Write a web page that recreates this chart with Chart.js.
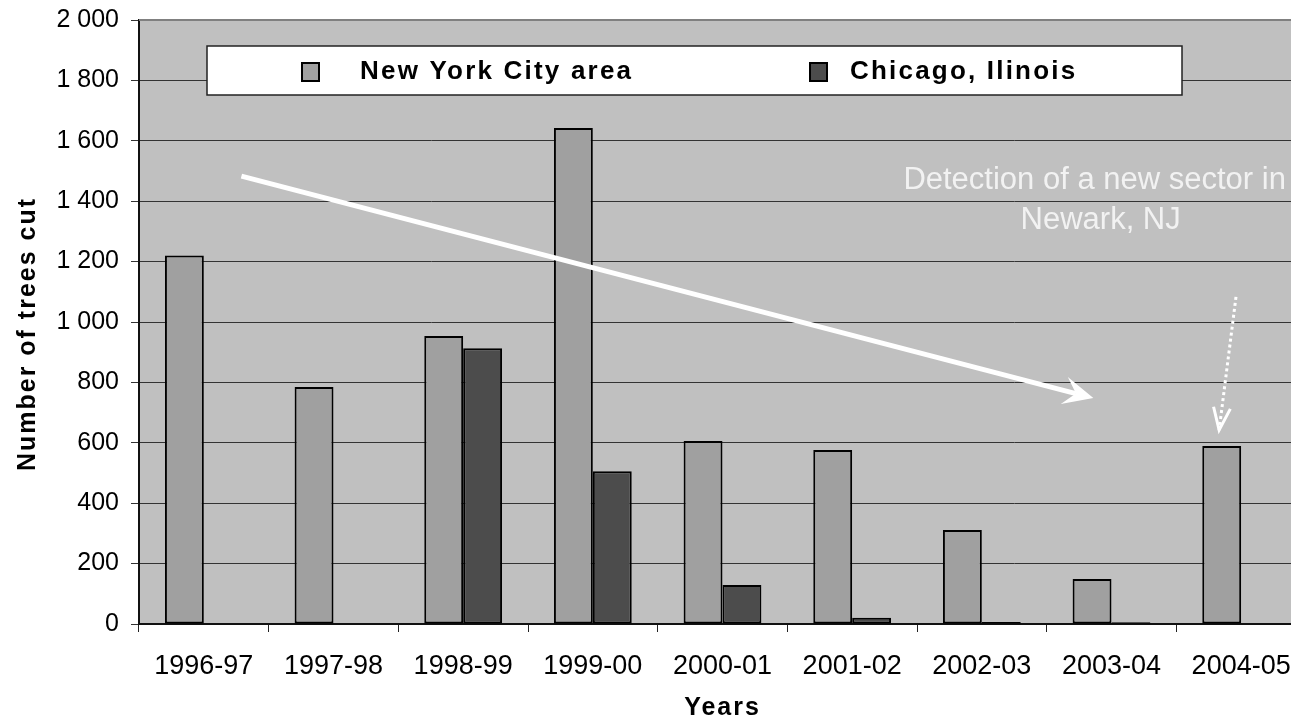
<!DOCTYPE html>
<html>
<head>
<meta charset="utf-8">
<script src="https://cdn.jsdelivr.net/npm/chart.js@4/dist/chart.umd.min.js"></script>
<style>
  html, body { margin: 0; padding: 0; background: #ffffff; overflow: hidden; }
  #wrap { position: relative; width: 1306px; height: 718px; }
  canvas { display: block; }
</style>
</head>
<body>
<div id="wrap"><canvas id="chart" width="1306" height="718"></canvas></div>
<script>
// Seasons on the category axis
const years = ['1996-97', '1997-98', '1998-99', '1999-00', '2000-01', '2001-02', '2002-03', '2003-04', '2004-05'];
// Trees cut per season
const nycTrees = [1220, 785, 954, 1642, 606, 576, 311, 149, 589];
const chicagoTrees = [null, null, 913, 506, 129, 21, 7, 6, null];
// Series names
const seriesNames = ['New York City area', 'Chicago, Ilinois'];
// Value axis
const yMin = 0, yMax = 2000, yStep = 200;
const yTitle = 'Number of trees cut';
const xTitle = 'Years';
// Annotation
const noteLines = ['Detection of a new sector in', 'Newark, NJ'];

const FONT = '"Liberation Sans", Arial, sans-serif';
const PLOT_BG = '#c0c0c0';
const NYC_FILL = '#a0a0a0';
const CHI_FILL = '#4c4c4c';

function spaced(n) {
  return String(n).replace(/\B(?=(\d{3})+(?!\d))/g, ' ');
}

// Trend arrow and the dotted pointer, expressed in category-index / value space
const trendArrow = { from: [0.29, 1483], to: [6.86, 748] };
const pointerArrow = { from: [7.96, 1083], to: [7.83, 642] };
const noteAnchor = [6.87, 1440];

const decor = {
  id: 'decor',
  beforeDraw(chart) {
    const { ctx, chartArea: a } = chart;
    ctx.save();
    ctx.fillStyle = PLOT_BG;
    ctx.fillRect(a.left, a.top, a.right - a.left, a.bottom - a.top);
    ctx.restore();
  },
  afterDraw(chart) {
    const { ctx, chartArea: a, scales } = chart;
    const xs = scales.x, ys = scales.y;
    const px = (p) => [xs.getPixelForValue(p[0]), ys.getPixelForValue(p[1])];

    ctx.save();
    // top border of the plot
    ctx.strokeStyle = '#808080';
    ctx.lineWidth = 2;
    ctx.beginPath();
    ctx.moveTo(a.left, a.top);
    ctx.lineTo(a.right, a.top);
    ctx.stroke();

    // legend box
    const lx = a.left + 68, ly = a.top + 26, lw = 975, lh = 49;
    ctx.fillStyle = '#ffffff';
    ctx.fillRect(lx, ly, lw, lh);
    ctx.strokeStyle = '#222222';
    ctx.lineWidth = 1.5;
    ctx.strokeRect(lx, ly, lw, lh);

    const ds = chart.data.datasets;
    const items = [
      { sx: lx + 95, tx: lx + 153, ds: ds[0] },
      { sx: lx + 603, tx: lx + 643, ds: ds[1] }
    ];
    ctx.font = 'bold 26px ' + FONT;
    ctx.letterSpacing = '2.2px';
    ctx.textBaseline = 'alphabetic';
    ctx.textAlign = 'left';
    items.forEach(it => {
      ctx.fillStyle = it.ds.backgroundColor;
      ctx.fillRect(it.sx, ly + 17, 17, 18);
      ctx.strokeStyle = '#000000';
      ctx.lineWidth = 2;
      ctx.strokeRect(it.sx, ly + 17, 17, 18);
      ctx.fillStyle = '#000000';
      ctx.fillText(it.ds.label, it.tx, ly + 33);
    });
    ctx.letterSpacing = '0px';

    // trend arrow (solid, stealth head)
    const [x1, y1] = px(trendArrow.from);
    const [x2, y2] = px(trendArrow.to);
    const ang = Math.atan2(y2 - y1, x2 - x1);
    const ux = Math.cos(ang), uy = Math.sin(ang);
    const L = 30, W = 14;
    const nx = x2 - ux * L * 0.6, ny = y2 - uy * L * 0.6;
    ctx.strokeStyle = '#ffffff';
    ctx.fillStyle = '#ffffff';
    ctx.lineWidth = 5;
    ctx.beginPath();
    ctx.moveTo(x1, y1);
    ctx.lineTo(nx, ny);
    ctx.stroke();
    ctx.beginPath();
    ctx.moveTo(x2, y2);
    ctx.lineTo(x2 - ux * L - uy * W, y2 - uy * L + ux * W);
    ctx.lineTo(nx, ny);
    ctx.lineTo(x2 - ux * L + uy * W, y2 - uy * L - ux * W);
    ctx.closePath();
    ctx.fill();

    // dotted pointer with open head
    const [p1x, p1y] = px(pointerArrow.from);
    const [p2x, p2y] = px(pointerArrow.to);
    const b = Math.atan2(p2y - p1y, p2x - p1x);
    ctx.lineWidth = 3;
    ctx.setLineDash([3, 3]);
    ctx.beginPath();
    ctx.moveTo(p1x, p1y);
    ctx.lineTo(p2x, p2y);
    ctx.stroke();
    ctx.setLineDash([]);
    const hl = 24, spread = 0.36;
    ctx.beginPath();
    ctx.moveTo(p2x - hl * Math.cos(b - spread), p2y - hl * Math.sin(b - spread));
    ctx.lineTo(p2x, p2y);
    ctx.lineTo(p2x - hl * Math.cos(b + spread), p2y - hl * Math.sin(b + spread));
    ctx.stroke();

    // annotation text
    const [tx, ty] = px(noteAnchor);
    ctx.fillStyle = '#f2f2f2';
    ctx.font = '31px ' + FONT;
    ctx.textAlign = 'center';
    ctx.textBaseline = 'alphabetic';
    ctx.fillText(noteLines[0], tx, ty);
    ctx.fillText(noteLines[1], tx + 6, ty + 40);

    // axis titles
    ctx.fillStyle = '#000000';
    ctx.font = 'bold 25px ' + FONT;
    ctx.letterSpacing = '2px';
    ctx.textAlign = 'center';
    ctx.fillText(xTitle, (a.left + a.right) / 2, 715);
    ctx.translate(35, (a.top + a.bottom) / 2 + 12);
    ctx.rotate(-Math.PI / 2);
    ctx.fillText(yTitle, 0, 0);
    ctx.restore();
  }
};

new Chart(document.getElementById('chart'), {
  type: 'bar',
  data: {
    labels: years,
    datasets: [
      { label: seriesNames[0], data: nycTrees, backgroundColor: NYC_FILL, borderColor: '#000000', borderWidth: 2, borderSkipped: false },
      { label: seriesNames[1], data: chicagoTrees, backgroundColor: CHI_FILL, borderColor: '#000000', borderWidth: 2, borderSkipped: false }
    ]
  },
  options: {
    responsive: false,
    animation: false,
    events: [],
    layout: { padding: { top: 20, left: 0, right: 0, bottom: 0 } },
    datasets: { bar: { categoryPercentage: 0.6, barPercentage: 1.0 } },
    plugins: { legend: { display: false }, tooltip: { enabled: false } },
    scales: {
      x: {
        offset: true,
        grid: { offset: true, drawOnChartArea: false, drawTicks: true, tickLength: 8, color: '#222222', lineWidth: 1 },
        border: { display: true, color: '#111111', width: 2 },
        ticks: { color: '#000000', font: { family: FONT, size: 27 }, padding: 18, maxRotation: 0, autoSkip: false },
        afterFit(scale) { scale.height = 94; scale.paddingLeft = 0; scale.paddingRight = 0; }
      },
      y: {
        min: yMin, max: yMax,
        grid: { color: '#333333', lineWidth: 1, tickLength: 8, drawTicks: true },
        border: { display: true, color: '#111111', width: 2 },
        ticks: { stepSize: yStep, color: '#000000', font: { family: FONT, size: 25 }, padding: 12, callback: (v) => spaced(v) },
        afterFit(scale) { scale.width = 139; scale.paddingTop = 0; scale.paddingBottom = 0; }
      }
    }
  },
  plugins: [decor]
});
</script>
</body>
</html>
